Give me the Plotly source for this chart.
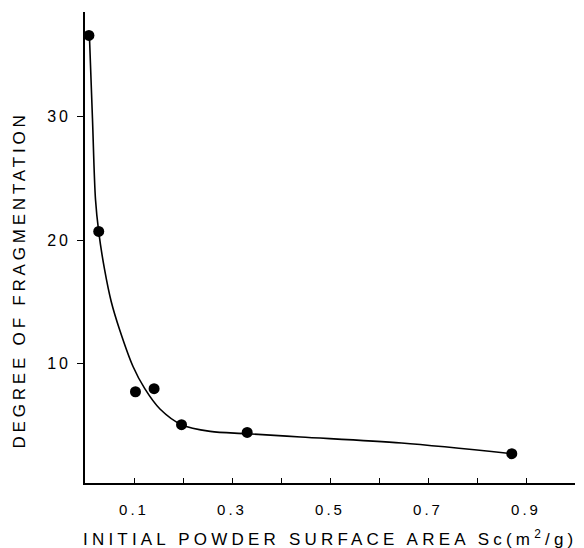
import plotly.graph_objects as go

# Measured data points
pt_x = [0.008, 0.028, 0.103, 0.141, 0.197, 0.331, 0.871]
pt_y = [36.6, 20.7, 7.7, 7.95, 5.03, 4.4, 2.68]

# Fitted curve
curve_x = [0.009, 0.0152, 0.0214, 0.028, 0.04, 0.0536, 0.0707, 0.098, 0.122, 0.153, 0.197,
           0.2555, 0.33, 0.44, 0.646, 0.871]
curve_y = [36.6, 29.9, 23.3, 20.66, 17.6, 15.0, 12.73, 9.75, 7.95, 6.3, 5.03,
           4.49, 4.3, 4.03, 3.54, 2.68]

x_tickvals = [0.1, 0.3, 0.5, 0.7, 0.9]
x_ticklabels = ["0.1", "0.3", "0.5", "0.7", "0.9"]
x_minor_tickvals = [0.2, 0.4, 0.6, 0.8]
y_tickvals = [10, 20, 30]
y_ticklabels = ["10", "20", "30"]

x_title = "INITIAL POWDER SURFACE AREA Sc(m<sup>2</sup>/g)"
y_title = "DEGREE OF FRAGMENTATION"

FONT = "Liberation Sans, Arial, sans-serif"


def spaced(t, ls):
    return f"<span style='letter-spacing:{ls}px'>{t}</span>" if t else ""


fig = go.Figure()
fig.add_trace(go.Scatter(x=curve_x, y=curve_y, mode="lines",
                         line=dict(color="black", width=1.6, shape="spline", smoothing=0.9),
                         hoverinfo="skip", showlegend=False))
fig.add_trace(go.Scatter(x=pt_x, y=pt_y, mode="markers",
                         marker=dict(color="black", size=11), showlegend=False))

fig.update_layout(
    width=584, height=548,
    margin=dict(l=85, r=9, t=12, b=65),
    paper_bgcolor="white", plot_bgcolor="white",
    font=dict(family=FONT, color="black", size=15),
    xaxis=dict(range=[0, 1.0], showgrid=False, zeroline=False,
               showline=True, linecolor="black", linewidth=1.6,
               ticks="inside", ticklen=5, tickwidth=1.4, tickcolor="black",
               tickvals=x_tickvals,
               ticktext=[spaced(t, 3) for t in x_ticklabels],
               tickfont=dict(size=15, family=FONT),
               ticklabelstandoff=12,
               minor=dict(tickvals=x_minor_tickvals, ticks="inside", ticklen=5,
                          tickwidth=1.4, tickcolor="black", showgrid=False)),
    yaxis=dict(range=[0.3, 38.5], showgrid=False, zeroline=False,
               showline=True, linecolor="black", linewidth=1.6,
               ticks="outside", ticklen=6, tickwidth=1.4, tickcolor="black",
               tickvals=y_tickvals,
               ticktext=[spaced(t, 3) for t in y_ticklabels],
               tickfont=dict(size=16, family=FONT),
               ticklabelstandoff=3),
)

fig.add_annotation(text=spaced(x_title, 4.2), xref="paper", yref="paper",
                   x=0.5, y=0, yshift=-55, xanchor="center", yanchor="middle",
                   showarrow=False, font=dict(size=17, family=FONT))
fig.add_annotation(text=spaced(y_title, 3.8), xref="paper", yref="paper",
                   x=0, xshift=-66, y=0.5, yshift=-33, textangle=-90,
                   xanchor="center", yanchor="middle",
                   showarrow=False, font=dict(size=17, family=FONT))

fig.write_html("out.html")
